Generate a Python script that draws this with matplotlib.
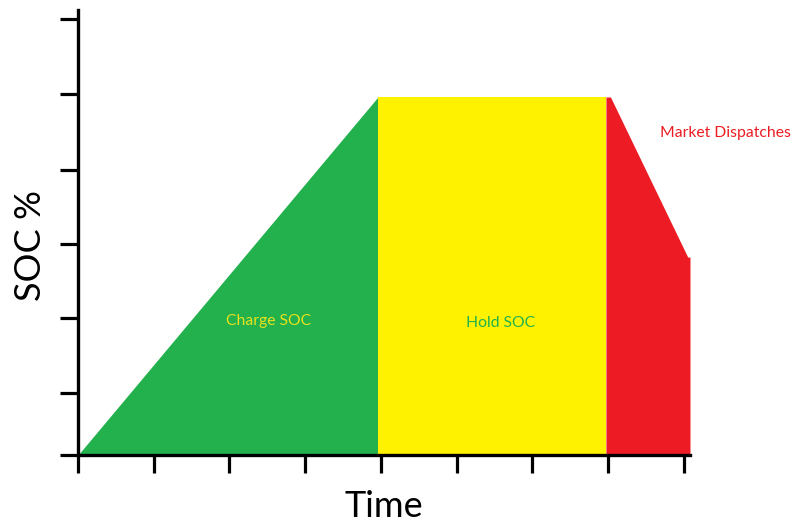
import numpy as np
import matplotlib.pyplot as plt

# phases of the SOC profile (time in arbitrary units, SOC in %)
charge_t = [0, 3.96]
charge_soc = [0, 100]
hold_t = [3.96, 6.97]
hold_soc = [100, 100]
dispatch_t = [6.97, 7.03, 8.05, 8.08]
dispatch_soc = [100, 100, 55.3, 55.3]

x_ticks = [0, 1, 2, 3, 4, 5, 6, 7, 8]
y_ticks = [0, 17.3, 38.3, 59.0, 79.6, 100.8, 121.8]

green = '#22B14C'
yellow = '#FFF200'
red = '#ED1C24'

plt.rcParams['font.family'] = ['Lato', 'DejaVu Sans']

fig = plt.figure(figsize=(7.93, 5.23), dpi=100)
ax = fig.add_axes([78 / 793, 68 / 523, 612 / 793, 445 / 523])

ax.fill_between(charge_t, 0, charge_soc, color=green, lw=0)
ax.fill_between(hold_t, 0, hold_soc, color=yellow, lw=0)
ax.fill_between(dispatch_t, 0, dispatch_soc, color=red, lw=0)

ax.text(2.51, 37.4, 'Charge SOC', color='#E8E21E', fontsize=11.3,
        ha='center', va='center')
ax.text(5.58, 36.9, 'Hold SOC', color=green, fontsize=11.3,
        ha='center', va='center')
ax.text(8.55, 89.9, 'Market Dispatches', color=red, fontsize=11.3,
        ha='center', va='center', clip_on=False)

ax.set_xlim(0, 8.08)
ax.set_ylim(0, 124.3)
ax.set_xticks(x_ticks)
ax.set_yticks(y_ticks)
ax.set_xticklabels([])
ax.set_yticklabels([])
ax.tick_params(length=13, width=2.3, color='black')

for side in ['top', 'right']:
    ax.spines[side].set_visible(False)
for side in ['left', 'bottom']:
    ax.spines[side].set_linewidth(2.4)

ax.set_xlabel('Time', fontsize=26, labelpad=9)
ax.set_ylabel('SOC %', fontsize=26)
ax.yaxis.set_label_coords(-0.05, 0.47)

fig.savefig('out.png', dpi=100)
